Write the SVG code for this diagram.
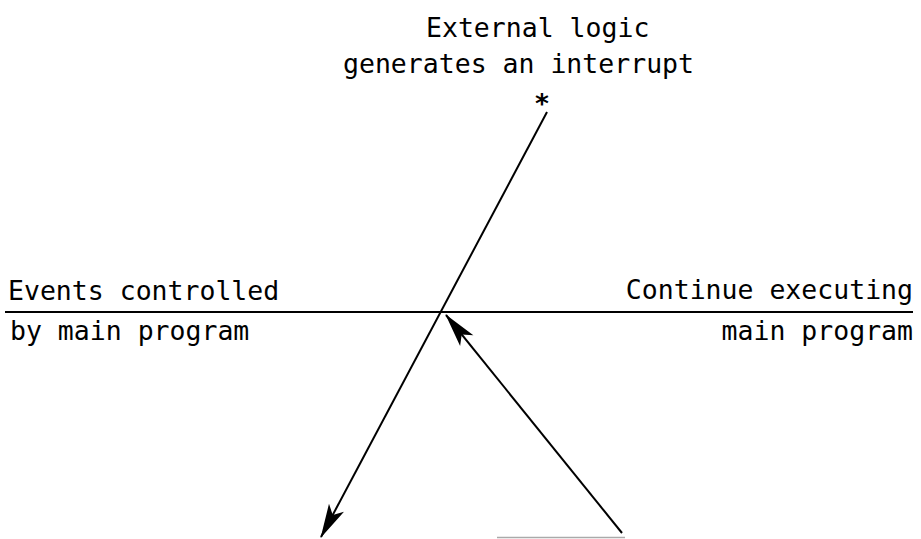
<svg xmlns="http://www.w3.org/2000/svg" width="921" height="539" viewBox="0 0 921 539">
<style>
  .t { font-family: "DejaVu Sans Mono", "Liberation Mono", monospace; font-size: 26.5px; fill: #000; }
  .ln { stroke: #000; stroke-width: 2; fill: none; }
</style>
<defs>
  <marker id="arr" markerUnits="userSpaceOnUse" viewBox="-36 -11 38 22" markerWidth="38" markerHeight="22" refX="0" refY="0" orient="auto">
    <path d="M1,0 L-33,-8.5 L-25,0 L-33,8.5 Z" fill="#000"/>
  </marker>
</defs>
<rect width="921" height="539" fill="#fff"/>
<g id="connectors">
  <line id="timeline" class="ln" x1="5" y1="312" x2="913" y2="312" stroke-width="2.3"/>
  <line id="interrupt-arrow" class="ln" x1="547" y1="112" x2="321" y2="537" marker-end="url(#arr)"/>
  <line id="return-arrow" class="ln" x1="622" y1="533" x2="446" y2="315" marker-end="url(#arr)"/>
  <line id="base-mark" x1="497" y1="537.5" x2="625" y2="537.5" stroke="#aaa" stroke-width="1.5"/>
</g>
<g id="external-logic">
  <text class="t" x="426" y="37">External logic</text>
  <text class="t" x="343" y="73">generates an interrupt</text>
  <text class="t" x="542" y="113" text-anchor="middle" font-weight="bold">*</text>
</g>
<g id="events-main">
  <text class="t" x="8" y="300">Events controlled</text>
  <text class="t" x="10" y="340">by main program</text>
</g>
<g id="continue-main">
  <text class="t" x="913" y="299" text-anchor="end">Continue executing</text>
  <text class="t" x="913" y="340" text-anchor="end">main program</text>
</g>
</svg>
